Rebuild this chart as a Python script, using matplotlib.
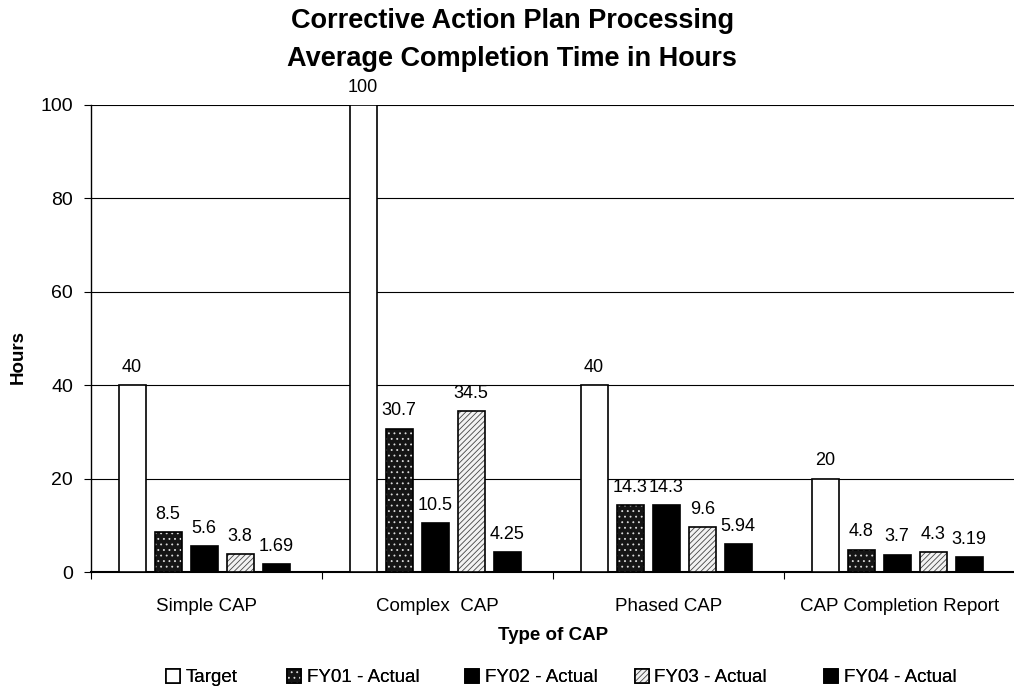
import numpy as np
import matplotlib
matplotlib.use("Agg")
import matplotlib.pyplot as plt

plt.rcParams['font.family'] = ['Liberation Sans', 'DejaVu Sans']
plt.rcParams['hatch.linewidth'] = 0.6

# data
categories = ["Simple CAP", "Complex  CAP", "Phased CAP", "CAP Completion Report"]
series_names = ["Target", "FY01 - Actual", "FY02 - Actual", "FY03 - Actual", "FY04 - Actual"]
target = [40, 100, 40, 20]
fy01 = [8.5, 30.7, 14.3, 4.8]
fy02 = [5.6, 10.5, 14.3, 3.7]
fy03 = [3.8, 34.5, 9.6, 4.3]
fy04 = [1.69, 4.25, 5.94, 3.19]
value_labels = [
    ["40", "100", "40", "20"],
    ["8.5", "30.7", "14.3", "4.8"],
    ["5.6", "10.5", "14.3", "3.7"],
    ["3.8", "34.5", "9.6", "4.3"],
    ["1.69", "4.25", "5.94", "3.19"],
]

fig = plt.figure(figsize=(10.14, 6.88), dpi=100)
ax = fig.add_axes([0.0897, 0.1686, 0.9113, 0.6788])

x = np.arange(len(categories))
step = 0.156
width = 0.117

# fill style for each series: (face, hatch color, hatch)
styles = [
    ("white", None, None),
    ("#151515", "#dddddd", "..."),
    ("black", None, None),
    ("#f2f2f2", "#444444", "//////"),
    ("black", None, None),
]
all_series = [target, fy01, fy02, fy03, fy04]

handles = []
for k, (vals, (face, hcol, hatch)) in enumerate(zip(all_series, styles)):
    pos = x + (k - 2) * step - 0.01
    if hatch:
        b1 = ax.bar(pos, vals, width, color=face, edgecolor=hcol, hatch=hatch,
                    linewidth=0, zorder=3)
        b2 = ax.bar(pos, vals, width, fill=False, edgecolor="black",
                    linewidth=1.2, zorder=4)
        handles.append((b1, b2))
    else:
        b = ax.bar(pos, vals, width, color=face, edgecolor="black",
                   linewidth=1.2, zorder=3)
        handles.append(b)
    for px, v, lab in zip(pos, vals, value_labels[k]):
        ax.text(px, v + 2.0, lab, ha="center", va="bottom", fontsize=13,
                zorder=5, clip_on=False)

ax.set_ylim(0, 100)
ax.set_xlim(-0.5, 3.5)
ax.set_yticks([0, 20, 40, 60, 80, 100])
ax.yaxis.grid(True, color="black", linewidth=0.8, zorder=0)
ax.set_axisbelow(True)

# category ticks sit on the group boundaries, labels in the middle
ax.set_xticks(np.arange(-0.5, 4.0, 1.0))
ax.set_xticklabels([])
ax.set_xticks(x, minor=True)
ax.set_xticklabels(categories, minor=True, fontsize=13.5)
ax.tick_params(axis="x", which="minor", length=0, pad=19)
ax.tick_params(axis="x", which="major", length=5, direction="out")
ax.tick_params(axis="y", labelsize=14, length=5, direction="out", pad=8)

for s in ["top", "right"]:
    ax.spines[s].set_visible(False)
ax.spines["left"].set_linewidth(1.0)
ax.spines["bottom"].set_linewidth(1.5)

ax.set_xlabel("Type of CAP", fontsize=13.5, fontweight="bold", labelpad=8)
ax.set_ylabel("Hours", fontsize=13.5, fontweight="bold")
ax.yaxis.set_label_coords(-0.069, 0.46)

fig.text(0.505, 0.988, "Corrective Action Plan Processing\nAverage Completion Time in Hours",
         ha="center", va="top", fontsize=19.5, fontweight="bold", linespacing=1.6)

# one legend entry per series, spaced along the bottom
legend_x = [0.164, 0.283, 0.459, 0.626, 0.813]
for h, name, lx in zip(handles, series_names, legend_x):
    leg = fig.legend([h], [name], loc="center left", bbox_to_anchor=(lx, 0.015),
                     frameon=False, fontsize=13.5, handlelength=0.75, handleheight=0.75,
                     handletextpad=0.3, borderpad=0, borderaxespad=0)
    fig.add_artist(leg)

fig.savefig("out.png", dpi=100)
